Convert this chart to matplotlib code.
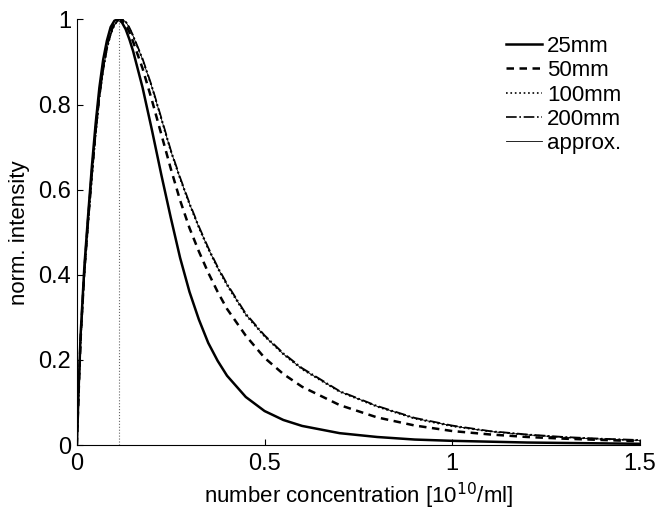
import matplotlib
matplotlib.use("Agg")
import matplotlib.pyplot as plt

plt.rcParams["font.family"] = ["Liberation Sans", "DejaVu Sans"]

# number concentration [10^10/ml]
conc = [0, 0.005, 0.01, 0.02, 0.03, 0.04, 0.05, 0.06, 0.07, 0.08, 0.09, 0.10,
        0.11, 0.12, 0.13, 0.14, 0.15, 0.175, 0.2, 0.225, 0.25, 0.275, 0.3,
        0.325, 0.35, 0.375, 0.4, 0.45, 0.5, 0.55, 0.6, 0.7, 0.8, 0.9, 1.0,
        1.1, 1.2, 1.3, 1.4, 1.5]

# normalized intensity per path length
i_25 = [0, 0.14, 0.26, 0.42, 0.54, 0.655, 0.755, 0.84, 0.905, 0.95, 0.982, 0.997,
        1.0, 0.993, 0.977, 0.953, 0.925, 0.84, 0.74, 0.635, 0.535, 0.44, 0.36,
        0.295, 0.24, 0.198, 0.163, 0.113, 0.08, 0.059, 0.045, 0.028, 0.019, 0.013, 0.01,
        0.008, 0.006, 0.005, 0.004, 0.003]
i_50 = [0, 0.13, 0.25, 0.41, 0.53, 0.64, 0.74, 0.825, 0.89, 0.94, 0.972, 0.99,
        0.999, 0.998, 0.988, 0.97, 0.947, 0.885, 0.81, 0.73, 0.65, 0.575, 0.51,
        0.455, 0.405, 0.36, 0.32, 0.257, 0.205, 0.167, 0.137, 0.094, 0.065, 0.046, 0.033,
        0.025, 0.019, 0.015, 0.012, 0.009]
i_100 = [0, 0.125, 0.245, 0.40, 0.52, 0.63, 0.73, 0.815, 0.88, 0.93, 0.965, 0.987,
         0.998, 1.0, 0.995, 0.98, 0.96, 0.905, 0.84, 0.765, 0.69, 0.625, 0.565,
         0.51, 0.46, 0.415, 0.375, 0.305, 0.255, 0.213, 0.178, 0.125, 0.09, 0.062, 0.044,
         0.032, 0.024, 0.018, 0.014, 0.011]
i_200 = [0, 0.125, 0.245, 0.40, 0.52, 0.63, 0.73, 0.815, 0.88, 0.93, 0.965, 0.987,
         0.998, 1.0, 0.995, 0.981, 0.962, 0.908, 0.843, 0.769, 0.694, 0.629, 0.569,
         0.514, 0.464, 0.419, 0.379, 0.309, 0.258, 0.216, 0.181, 0.127, 0.092, 0.064, 0.046,
         0.033, 0.025, 0.019, 0.015, 0.012]
i_approx = [0, 0.125, 0.245, 0.40, 0.52, 0.63, 0.73, 0.815, 0.88, 0.93, 0.965, 0.987,
            0.998, 1.0, 0.995, 0.98, 0.961, 0.906, 0.841, 0.767, 0.692, 0.627, 0.567,
            0.512, 0.462, 0.417, 0.377, 0.307, 0.256, 0.214, 0.179, 0.126, 0.091, 0.063, 0.045,
            0.032, 0.024, 0.018, 0.014, 0.011]

peak_conc = 0.113

fig = plt.figure(figsize=(6.57, 5.11), dpi=100)
ax = fig.add_axes([0.117, 0.129, 0.857, 0.833])

ax.plot(conc, i_25, "k-", lw=1.8, label="25mm")
ax.plot(conc, i_50, "k--", lw=1.8, dashes=(3, 2.2), label="50mm")
ax.plot(conc, i_100, "k:", lw=1.2, label="100mm")
ax.plot(conc, i_200, "k-.", lw=1.2, label="200mm")
ax.plot(conc, i_approx, "k-", lw=0.6, label="approx.")
ax.plot([peak_conc, peak_conc], [0, 1], color="0.4", ls=":", lw=0.8)

ax.set_xlim(0, 1.5)
ax.set_ylim(0, 1)
ax.set_xticks([0, 0.5, 1, 1.5])
ax.set_xticklabels(["0", "0.5", "1", "1.5"])
ax.set_yticks([0, 0.2, 0.4, 0.6, 0.8, 1])
ax.set_yticklabels(["0", "0.2", "0.4", "0.6", "0.8", "1"])
ax.spines["top"].set_visible(False)
ax.spines["right"].set_visible(False)
ax.tick_params(direction="in", length=4, width=0.8, labelsize=17)
ax.tick_params(axis="x", pad=6)
ax.tick_params(axis="y", pad=4)
ax.set_xlabel("number concentration [10$^{10}$/ml]", fontsize=16, labelpad=4)
ax.set_ylabel("norm. intensity", fontsize=16, labelpad=6)

ax.legend(loc="upper left", bbox_to_anchor=(0.740, 0.969),
          bbox_transform=fig.transFigure, frameon=False, fontsize=16,
          handlelength=1.6, handletextpad=0.25, labelspacing=0.15)

fig.savefig("out.png", dpi=100)
